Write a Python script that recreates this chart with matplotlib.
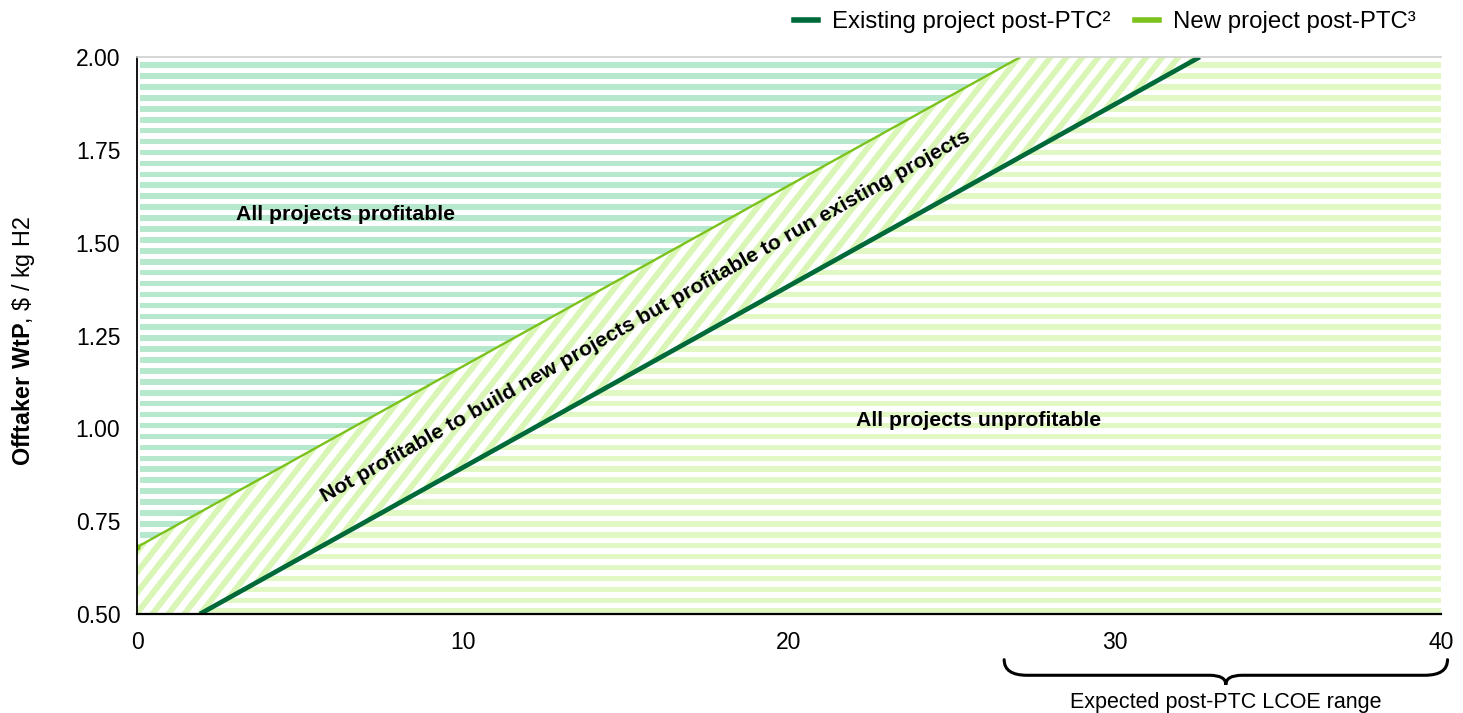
import numpy as np
import matplotlib
matplotlib.use("Agg")
import matplotlib.pyplot as plt
from matplotlib.patches import Polygon, PathPatch
from matplotlib.path import Path
from matplotlib.lines import Line2D
import matplotlib.transforms as mtransforms

plt.rcParams['font.family'] = ['Liberation Sans', 'DejaVu Sans']
plt.rcParams['mathtext.fontset'] = 'custom'
plt.rcParams['mathtext.rm'] = 'Liberation Sans'
plt.rcParams['mathtext.bf'] = 'Liberation Sans:bold'

# ---- data ----
existing_x = [1.93, 32.6]       # LCOE, $/MWh
existing_y = [0.50, 2.00]       # WtP, $/kg H2
new_x = [0.0, 27.1]
new_y = [0.68, 2.00]
x_ticks = [0, 10, 20, 30, 40]
y_ticks = [0.50, 0.75, 1.00, 1.25, 1.50, 1.75, 2.00]
series_labels = ["Existing project post-PTC\u00b2", "New project post-PTC\u00b3"]
region_labels = ["All projects profitable",
                 "Not profitable to build new projects but profitable to run existing projects",
                 "All projects unprofitable"]
lcoe_range = [26.6, 40.2]
xlim = (0, 40)
ylim = (0.50, 2.00)

# ---- colors ----
c_exist = "#00693a"
c_new = "#7cc21d"
c_mint = "#b6e8cd"
c_lime = "#e2f8c4"
c_diag = "#daf6b6"

fig = plt.figure(figsize=(14.63, 7.13), dpi=100)
ax = fig.add_axes([137/1463, 1 - 614/713, (1441-137)/1463, (614-57)/713])
ax.set_xlim(*xlim)
ax.set_ylim(*ylim)

# regions
upper = Polygon([(xlim[0], new_y[0]), (new_x[1], new_y[1]), (xlim[0], ylim[1])],
                closed=True, facecolor='white', edgecolor='none', zorder=1)
middle = Polygon([(xlim[0], ylim[0]), (existing_x[0], existing_y[0]),
                  (existing_x[1], existing_y[1]), (new_x[1], new_y[1]),
                  (new_x[0], new_y[0])],
                 closed=True, facecolor='white', edgecolor='none', zorder=1)
lower = Polygon([(existing_x[0], existing_y[0]), (xlim[1], ylim[0]),
                 (xlim[1], ylim[1]), (existing_x[1], existing_y[1])],
                closed=True, facecolor='white', edgecolor='none', zorder=1)
for p in (upper, middle, lower):
    ax.add_patch(p)

# horizontal stripes
period = 1.5 / 51
thick = 0.0150
for k in range(52):
    y0 = ylim[0] + k * period
    for poly, col in ((upper, c_mint), (lower, c_lime)):
        r = ax.axhspan(y0, y0 + thick, xmin=0.002, xmax=1.0, facecolor=col,
                       edgecolor='none', zorder=2)
        r.set_clip_path(poly)

# diagonal stripes in middle region
s = 0.1124       # data slope of stripe
dxp = 0.49       # horizontal period
w = 0.23
span = (ylim[1] - ylim[0]) / s
for x0 in np.arange(-span - 1, 45, dxp):
    pts = [(x0, ylim[0]), (x0 + w, ylim[0]),
           (x0 + w + span, ylim[1]), (x0 + span, ylim[1])]
    d = Polygon(pts, closed=True, facecolor=c_diag, edgecolor='none', zorder=2)
    ax.add_patch(d)
    d.set_clip_path(middle)

# lines
ax.plot(new_x, new_y, color=c_new, lw=1.7, zorder=5, solid_capstyle='butt')
ax.plot(new_x[:1], new_y[:1], 'o', color=c_new, ms=3.5, zorder=6)
ax.plot(existing_x, existing_y, color=c_exist, lw=3.4, zorder=5, solid_capstyle='butt')

# axes styling
ax.spines['right'].set_visible(False)
ax.spines['top'].set_color('#d0d0d0')
ax.spines['top'].set_linewidth(1.2)
ax.spines['left'].set_color('black')
ax.spines['left'].set_linewidth(1.3)
ax.spines['bottom'].set_color('black')
ax.spines['bottom'].set_linewidth(1.6)
for sp in ax.spines.values():
    sp.set_zorder(7)
ax.set_xticks(x_ticks)
ax.set_yticks(y_ticks)
ax.set_yticklabels([f"{v:.2f}" for v in y_ticks])
ax.tick_params(axis='both', length=0, labelsize=16.5)
ax.tick_params(axis='y', pad=12)
ax.tick_params(axis='x', pad=12)

ax.set_ylabel(r"$\mathbf{Offtaker\ WtP}$, \$ / kg H2", fontsize=16.8)
ax.yaxis.set_label_coords(-0.077, 0.49)

# region labels
ax.text(6.4, 1.575, region_labels[0], fontsize=15.3, fontweight='bold',
        ha='center', va='center', zorder=8)
ax.text(25.8, 1.02, region_labels[2], fontsize=15.3, fontweight='bold',
        ha='center', va='center', zorder=8)
ax.text(15.6, 1.302, region_labels[1], fontsize=15.3, fontweight='bold',
        ha='center', va='center', rotation=29.3, rotation_mode='anchor', zorder=8)

# brace for LCOE range
tr = mtransforms.blended_transform_factory(ax.transData, ax.transAxes)
L, R = lcoe_range
C = (L + R) / 2
yt, ym, yb = -0.082, -0.110, -0.127
verts = [(L, yt), (L, ym), (L + 0.7, ym), (C - 0.5, ym), (C, ym), (C, yb),
         (C, ym), (C + 0.5, ym), (R - 0.7, ym), (R, ym), (R, yt)]
codes = [Path.MOVETO, Path.CURVE3, Path.CURVE3, Path.LINETO, Path.CURVE3, Path.CURVE3,
         Path.CURVE3, Path.CURVE3, Path.LINETO, Path.CURVE3, Path.CURVE3]
brace = PathPatch(Path(verts, codes), transform=tr, facecolor='none',
                  edgecolor='black', lw=2.2, clip_on=False, capstyle='round')
ax.add_patch(brace)
ax.text(C, -0.158, "Expected post-PTC LCOE range", transform=tr, fontsize=15.5,
        ha='center', va='center')

# legend
handles = [Line2D([0], [0], color=c_exist, lw=4),
           Line2D([0], [0], color=c_new, lw=4)]
fig.legend(handles, series_labels, loc='center right', ncol=2, frameon=False,
           bbox_to_anchor=(1416/1463, 1 - 22/713), fontsize=17.3,
           handlelength=1.0, handletextpad=0.6, columnspacing=1.0,
           borderaxespad=0, borderpad=0)

fig.savefig("out.png", dpi=100)
